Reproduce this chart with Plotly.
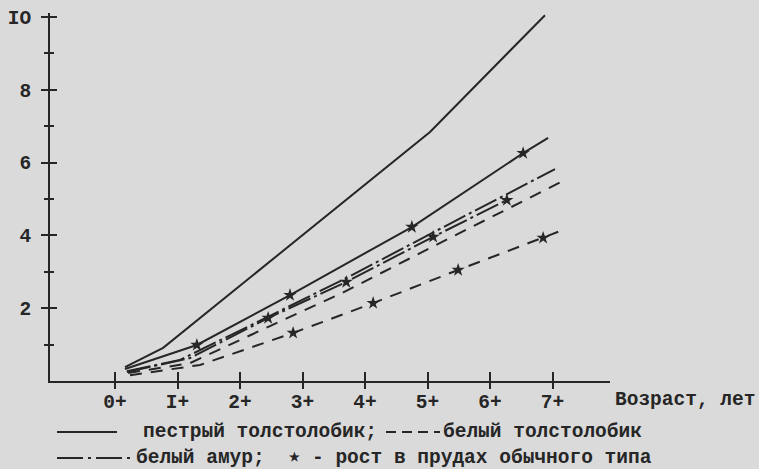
import plotly.graph_objects as go

# ---------------- data ----------------
age_ticks = [0, 1, 2, 3, 4, 5, 6, 7]
age_labels = ["0+", "I+", "2+", "3+", "4+", "5+", "6+", "7+"]
y_ticks = [2, 4, 6, 8, 10]
y_labels = ["2", "4", "6", "8", "IO"]
y_minor = [1, 3, 5, 7, 9]

# пестрый толстолобик
pestry_x = [0.16, 0.77, 5.04, 6.88]
pestry_y = [0.38, 0.91, 6.84, 10.05]
# пестрый толстолобик, пруды обычного типа
pestry_pond_x = [0.16, 1.31, 2.80, 4.75, 6.53, 6.93]
pestry_pond_y = [0.33, 0.99, 2.36, 4.23, 6.26, 6.68]
pestry_pond_marks = [1, 2, 3, 4]
# белый амур
amur_x = [0.19, 1.04, 2.48, 3.76, 5.20, 7.04]
amur_y = [0.27, 0.58, 1.79, 2.88, 4.18, 5.82]
# белый амур, пруды обычного типа
amur_pond_x = [0.19, 1.20, 2.45, 3.70, 5.09, 6.27]
amur_pond_y = [0.25, 0.63, 1.73, 2.72, 3.96, 4.97]
amur_pond_marks = [2, 3, 4, 5]
# белый толстолобик
bely_x = [0.21, 1.20, 2.48, 3.60, 5.36, 7.23]
bely_y = [0.22, 0.49, 1.51, 2.39, 3.93, 5.55]
# белый толстолобик, пруды обычного типа
bely_pond_x = [0.24, 1.36, 2.85, 4.13, 5.49, 6.85, 7.17]
bely_pond_y = [0.16, 0.44, 1.32, 2.14, 3.05, 3.93, 4.15]
bely_pond_marks = [2, 3, 4, 5]

x_title = "Возраст, лет"
leg_pestry = "пестрый толстолобик;"
leg_bely = "белый толстолобик"
leg_amur = "белый амур;"
leg_pond = "- рост в прудах обычного типа"

# ---------------- style ----------------
INK = "#262626"
BG = "#dadada"
FONT = "Liberation Mono"
FS = 19.5
SOLID = "solid"
DASH = "12px,9px"
DASHDOT = "24px,4px,3px,4px"

W, H = 759, 469
ML, MR, MT, MB = 50, 149, 13, 88
PW, PH = W - ML - MR, H - MT - MB


def px(x):
    return (x - ML) / PW


def py(y):
    return (H - MB - y) / PH


fig = go.Figure()


def add_series(xs, ys, dash, marks=None):
    fig.add_trace(go.Scatter(x=xs, y=ys, mode="lines",
                             line=dict(color=INK, width=2, dash=dash),
                             showlegend=False, hoverinfo="skip"))
    if marks:
        fig.add_trace(go.Scatter(x=[xs[i] for i in marks], y=[ys[i] for i in marks],
                                 mode="markers",
                                 marker=dict(symbol="star", size=10, color=INK,
                                             line=dict(width=0)),
                                 showlegend=False, hoverinfo="skip"))


add_series(pestry_x, pestry_y, SOLID)
add_series(pestry_pond_x, pestry_pond_y, SOLID, pestry_pond_marks)
add_series(amur_x, amur_y, DASHDOT)
add_series(amur_pond_x, amur_pond_y, DASHDOT, amur_pond_marks)
add_series(bely_x, bely_y, DASH)
add_series(bely_pond_x, bely_pond_y, DASH, bely_pond_marks)

# dummy trace for overlay axes (inner tick halves)
fig.add_trace(go.Scatter(x=[None], y=[None], xaxis="x2", yaxis="y2",
                         showlegend=False, hoverinfo="skip"))

XR = [-1.04, 7.92]
YR = [0, 10.11]
TF = dict(family=FONT, size=FS, color=INK, weight="bold")

fig.update_layout(
    width=W, height=H,
    margin=dict(l=ML, r=MR, t=MT, b=MB, autoexpand=False),
    paper_bgcolor=BG, plot_bgcolor=BG,
    font=dict(family=FONT, size=FS, color=INK),
    xaxis=dict(range=XR, showgrid=False, zeroline=False, showline=True,
               linecolor=INK, linewidth=2, ticks="outside", ticklen=6,
               tickwidth=2, tickcolor=INK, tickmode="array", automargin=False,
               tickvals=age_ticks, ticktext=age_labels, tickfont=TF,
               ticklabelstandoff=-4),
    yaxis=dict(range=YR, showgrid=False, zeroline=False, showline=True,
               linecolor=INK, linewidth=2, ticks="outside", ticklen=7,
               tickwidth=2, tickcolor=INK, tickmode="array", automargin=False,
               tickvals=y_ticks, ticktext=y_labels, ticklabelstandoff=6,
               tickfont=TF,
               minor=dict(tickmode="array", tickvals=y_minor, ticks="outside",
                          ticklen=4, tickwidth=2, tickcolor=INK)),
    xaxis2=dict(range=XR, overlaying="x", anchor="y2", showgrid=False,
                zeroline=False, showline=False, ticks="inside", ticklen=9,
                tickwidth=2, tickcolor=INK, tickmode="array",
                tickvals=age_ticks, showticklabels=False),
    yaxis2=dict(range=YR, overlaying="y", anchor="x2", showgrid=False,
                zeroline=False, showline=False, ticks="inside", ticklen=7,
                tickwidth=2, tickcolor=INK, tickmode="array",
                tickvals=y_ticks, showticklabels=False,
                minor=dict(tickmode="array", tickvals=y_minor, ticks="inside",
                           ticklen=4, tickwidth=2, tickcolor=INK)),
)

# ---------------- legend and axis title ----------------
def text(s, x, y, size=FS):
    fig.add_annotation(text=s, xref="paper", yref="paper", x=px(x), y=py(y),
                       xanchor="left", yanchor="middle", showarrow=False,
                       font=dict(family=FONT, size=size, color=INK, weight="bold"))


def sample(x0, x1, y, dash):
    fig.add_shape(type="line", xref="paper", yref="paper",
                  x0=px(x0), x1=px(x1), y0=py(y), y1=py(y),
                  line=dict(color=INK, width=2, dash=dash))


text(x_title, 613, 400)

row1, row2 = 432, 458
sample(57, 117, row1, SOLID)
text(leg_pestry, 141, row1)
sample(386, 440, row1, "10px,6px")
text(leg_bely, 441, row1)

sample(57, 133, row2, "26px,5px,3px,5px")
text(leg_amur, 134, row2)
text("★", 287, row2, size=12)
text(leg_pond, 310, row2)

fig.write_html(
    "out.html",
    config={"displayModeBar": False},
    post_script="document.body.style.margin='0';document.body.style.overflow='hidden';",
)
